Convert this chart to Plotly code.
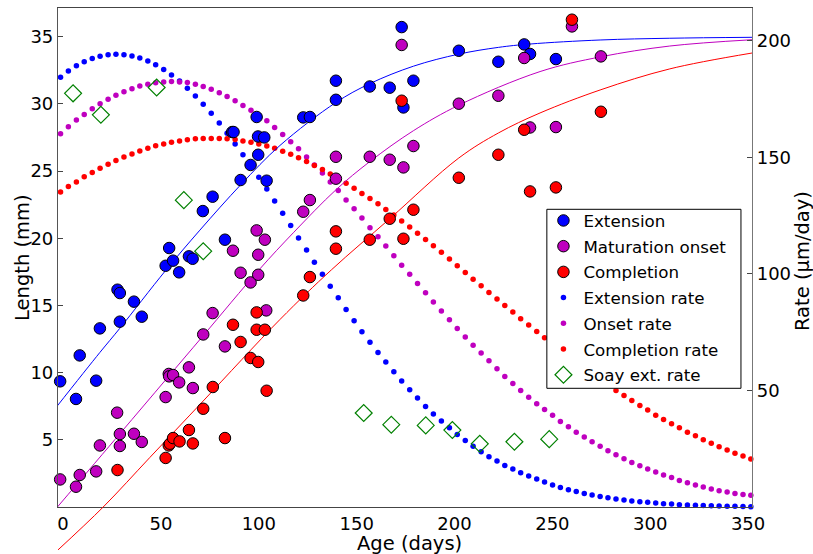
import plotly.graph_objects as go

# ---------------- data ----------------
ext_days = [-1.5, 6.6, 8.5, 16.9, 18.8, 27.8, 29.0, 29.0, 36.2, 40.2, 52.4, 54.2, 56.2, 59.3, 64.3,
            66.2, 71.4, 76.4, 82.7, 86.4, 87.1, 90.7, 95.8, 98.9, 99.6, 99.7, 102.8, 104.0, 122.7,
            126.1, 139.4, 139.4, 156.7, 166.9, 173.0, 173.9, 179.0, 202.2, 222.4, 235.6, 238.6, 251.8]
ext_len = [9.35, 8.04, 11.28, 9.40, 13.29, 16.17, 15.92, 13.79, 15.28, 14.16, 17.95, 19.27, 18.33, 17.46,
           18.65, 18.47, 22.02, 23.09, 19.89, 27.9, 27.9, 24.33, 25.45, 29.02, 27.57, 26.21, 27.50, 24.28,
           28.99, 29.02, 31.72, 30.30, 31.29, 31.20, 35.71, 29.73, 31.72, 33.95, 33.13, 34.42, 33.71, 33.33]

ons_days = [-1.5, 6.6, 8.5, 16.9, 18.8, 27.6, 29.0, 29.0, 36.2, 40.2, 52.4, 54.0, 54.2, 56.2, 59.3,
            64.3, 66.3, 71.6, 76.4, 82.7, 86.8, 90.7, 95.8, 98.9, 99.7, 99.7, 103.1, 103.8, 122.7,
            126.1, 139.4, 139.4, 156.7, 166.9, 173.0, 173.9, 179.0, 202.2, 222.4, 235.6, 238.6, 251.8,
            260.0, 274.8]
ons_len = [2.05, 1.51, 2.38, 2.65, 4.58, 7.02, 5.43, 4.54, 5.45, 4.84, 8.18, 9.90, 9.72, 9.82, 9.27,
           10.39, 8.85, 12.84, 14.43, 11.95, 19.07, 17.43, 16.71, 20.58, 18.77, 17.28, 19.89, 14.63,
           21.97, 22.84, 26.06, 24.43, 26.06, 25.84, 34.38, 25.27, 26.86, 30.01, 30.60, 33.41, 28.24,
           28.27, 35.76, 33.53]

com_days = [27.8, 52.4, 54.0, 54.6, 56.2, 59.5, 64.3, 66.3, 71.6, 76.5, 82.7, 86.8, 90.7, 95.8, 98.9,
            98.9, 99.7, 103.1, 104.0, 122.7, 126.1, 139.4, 139.4, 156.7, 166.9, 173.0, 173.9, 179.0,
            202.2, 222.4, 235.6, 238.6, 251.8, 260.0, 274.8]
com_len = [2.75, 3.65, 4.58, 4.71, 5.13, 4.88, 5.73, 4.73, 7.31, 8.93, 5.13, 13.56, 12.28, 11.09, 14.48,
           13.19, 10.79, 13.19, 8.65, 15.74, 17.11, 20.51, 19.22, 19.89, 21.45, 30.23, 19.96, 22.12,
           24.50, 26.21, 28.07, 23.48, 23.78, 36.26, 29.41]

soay_days = [5.1, 19.3, 47.8, 61.7, 71.6, 153.6, 167.7, 185.3, 198.9, 212.9, 230.6, 248.4]
soay_rate = [177.4, 168.2, 179.9, 131.6, 109.7, 40.3, 35.3, 35.0, 33.0, 27.1, 28.0, 29.1]

# fitted growth curves (length, mm)
ext_fit_days = [-3.4, 18.8, 29.0, 52.4, 69.9, 90.9, 110.8, 139.4, 156.7, 179.0, 202.2, 222.4, 238.6, 274.4, 310.0, 352.0]
ext_fit_len = [7.44, 11.5, 13.3, 17.6, 20.6, 24.0, 26.9, 30.1, 31.5, 32.8, 33.7, 34.2, 34.45, 34.75, 34.88, 34.95]

ons_fit_days = [-2.9, 29.0, 52.4, 71.6, 100.2, 117.6, 139.4, 156.7, 179.0, 202.2, 243.7, 274.8, 310.0, 352.0]
ons_fit_len = [0.0, 5.45, 9.46, 12.75, 17.66, 20.4, 23.6, 25.7, 28.0, 29.9, 32.4, 33.5, 34.3, 34.77]

com_fit_days = [-3.4, 20.5, 44.3, 71.6, 110.8, 137.2, 166.9, 202.2, 222.4, 243.7, 274.8, 310.0, 352.0]
com_fit_len = [-3.30, 0.0, 3.68, 7.89, 13.95, 17.66, 21.45, 25.97, 27.83, 29.32, 31.05, 32.6, 33.78]

# growth-rate curves (um/day), sampled every ~4 days
rate_days = [-5.4, -1.3, 2.7, 6.8, 10.8, 14.9, 18.9, 23.0, 27.0, 31.1, 35.2, 39.2, 43.3, 47.3, 51.4,
             55.4, 59.5, 63.5, 67.6, 71.6, 75.7, 79.8, 83.8, 87.9, 91.9, 96.0, 100.0, 104.1, 108.1,
             112.2, 116.3, 120.3, 124.4, 128.4, 132.5, 136.5, 140.6, 144.6, 148.7, 152.7, 156.8, 160.9,
             164.9, 169.0, 173.0, 177.1, 181.1, 185.2, 189.2, 193.3, 197.4, 201.4, 205.5, 209.5, 213.6,
             217.6, 221.7, 225.7, 229.8, 233.8, 237.9, 242.0, 246.0, 250.1, 254.1, 258.2, 262.2, 266.3,
             270.3, 274.4, 278.4, 282.5, 286.6, 290.6, 294.7, 298.7, 302.8, 306.8, 310.9, 314.9, 319.0,
             323.1, 327.1, 331.2, 335.2, 339.3, 343.3, 347.4, 351.4]
ext_rate = [181.7, 184.3, 187.0, 189.2, 190.9, 192.3, 193.3, 194.0, 194.2, 194.0, 193.4, 192.6, 191.3,
            189.7, 187.6, 185.3, 182.7, 179.6, 176.3, 172.7, 168.9, 164.7, 160.3, 155.7, 151.1, 146.4,
            141.4, 136.4, 131.2, 126.0, 120.7, 115.4, 110.2, 105.0, 99.8, 94.7, 89.7, 84.7, 79.9, 75.2,
            70.7, 66.3, 62.2, 58.0, 54.0, 50.3, 46.7, 43.1, 39.9, 36.9, 34.0, 31.1, 28.5, 26.0, 23.7,
            21.6, 19.7, 17.8, 16.3, 14.7, 13.3, 12.0, 10.7, 9.4, 8.4, 7.4, 6.6, 5.8, 5.1, 4.5, 4.0, 3.4,
            3.0, 2.6, 2.3, 2.0, 1.7, 1.4, 1.3, 1.0, 0.9, 0.7, 0.6, 0.5, 0.4, 0.3, 0.3, 0.2, 0.1]
ons_rate = [157.1, 160.1, 163.1, 166.0, 168.3, 170.8, 172.9, 174.9, 176.6, 178.1, 179.4, 180.5, 181.3,
            181.9, 182.3, 182.5, 182.3, 182.0, 181.3, 180.3, 179.2, 177.7, 176.0, 174.2, 172.2, 170.1,
            167.9, 165.6, 162.7, 159.7, 156.6, 153.6, 150.1, 146.7, 143.2, 139.4, 135.7, 131.7, 127.9,
            123.9, 119.8, 115.9, 111.9, 107.7, 103.7, 99.8, 95.8, 91.9, 87.9, 84.1, 80.3, 76.6, 72.9,
            69.4, 66.0, 62.7, 59.3, 56.0, 53.0, 50.0, 47.1, 44.3, 41.8, 39.3, 36.7, 34.4, 32.1, 30.0,
            28.0, 26.0, 24.1, 22.4, 20.7, 19.1, 17.7, 16.3, 15.0, 13.7, 12.6, 11.4, 10.4, 9.4, 8.6, 7.7,
            7.0, 6.4, 5.8, 5.4, 5.0]
com_rate = [133.1, 135.1, 137.4, 139.4, 141.6, 143.4, 145.3, 147.0, 148.6, 150.1, 151.4, 152.7, 153.9,
            154.9, 155.7, 156.4, 157.0, 157.5, 157.9, 158.0, 158.0, 158.0, 157.9, 157.6, 157.0, 156.4,
            155.7, 154.8, 153.8, 152.6, 151.3, 149.8, 148.2, 146.5, 144.7, 142.8, 140.8, 138.8, 136.7,
            134.5, 132.3, 130.0, 127.6, 125.2, 122.7, 120.1, 117.4, 114.7, 112.0, 109.2, 106.4, 103.5,
            100.6, 97.7, 94.9, 92.0, 89.2, 86.4, 83.6, 80.7, 78.0, 75.3, 72.6, 69.8, 67.1, 64.4, 61.8,
            59.3, 56.9, 54.5, 52.2, 50.0, 47.8, 45.7, 43.5, 41.6, 39.4, 37.5, 35.7, 34.0, 32.1, 30.6,
            28.8, 27.3, 25.8, 24.4, 23.1, 21.9, 20.6]

x_ticks = [0, 50, 100, 150, 200, 250, 300, 350]
len_ticks = [5, 10, 15, 20, 25, 30, 35]
rate_ticks = [50, 100, 150, 200]

BLUE = "#0000ff"
MAG = "#bf00bf"
RED = "#ff0000"
GREEN = "#008000"
FONT = "DejaVu Sans"

X_RANGE = [-2.6, 352]
LEN_RANGE = [0, 37.13]
RATE_RANGE = [0, 214]
# layout geometry: figure 813x554, plot area 58..752 x 8..507 px
PLOT_BOTTOM = 47 / 546          # paper fraction occupied below the main axes
BELOW_LEN = 47 * (LEN_RANGE[1] - LEN_RANGE[0]) / 499   # length span of the strip under the x axis

fig = go.Figure()

# ---- rate curves (axis y, right side, drawn underneath) ----
rate_names = ["Extension rate", "Onset rate", "Completion rate"]
for k, (vals, col) in enumerate([(ext_rate, BLUE), (ons_rate, MAG), (com_rate, RED)]):
    fig.add_trace(go.Scatter(x=rate_days, y=vals, mode="markers", name=rate_names[k],
                             marker=dict(size=5.5, color=col, line=dict(width=0)),
                             cliponaxis=False, yaxis="y", legendrank=4 + k,
                             legendgroup="g%d" % (4 + k)))

fig.add_trace(go.Scatter(x=soay_days, y=soay_rate, mode="markers", name="Soay ext. rate",
                         marker=dict(symbol="diamond-open", size=13, color=GREEN,
                                     line=dict(width=1.2, color=GREEN)),
                         yaxis="y", legendrank=7, legendgroup="g7"))

# ---- fitted lines (length axis y2, left) ----
for xs, ys, col in [(ext_fit_days, ext_fit_len, BLUE),
                    (ons_fit_days, ons_fit_len, MAG),
                    (com_fit_days, com_fit_len, RED)]:
    fig.add_trace(go.Scatter(x=xs, y=ys, mode="lines",
                             line=dict(color=col, width=1, shape="spline", smoothing=1.0),
                             showlegend=False, yaxis="y2", hoverinfo="skip"))

# the completion fit continues below the x axis (negative lengths), shown in a hidden strip
fig.add_trace(go.Scatter(x=com_fit_days, y=com_fit_len, mode="lines",
                         line=dict(color=RED, width=1, shape="spline", smoothing=1.0),
                         showlegend=False, xaxis="x2", yaxis="y3", hoverinfo="skip"))

# ---- measured lengths ----
for i, (name, xs, ys, col) in enumerate([("Extension", ext_days, ext_len, BLUE),
                                          ("Maturation onset", ons_days, ons_len, MAG),
                                          ("Completion", com_days, com_len, RED)]):
    fig.add_trace(go.Scatter(x=xs, y=ys, mode="markers", name=name,
                             marker=dict(size=11.5, color=col, line=dict(width=1, color="black")),
                             cliponaxis=False, yaxis="y2", legendrank=1 + i,
                             legendgroup="g%d" % (1 + i)))


def py(px):
    """figure pixel row -> paper fraction"""
    return (554 - px) / 546


axis_font = dict(family=FONT, size=18, color="black")
title_font = dict(family=FONT, size=19.5, color="black")
fig.update_layout(
    width=813, height=554,
    margin=dict(l=58, r=61, t=8, b=0, autoexpand=False),
    paper_bgcolor="white", plot_bgcolor="rgba(0,0,0,0)",
    font=dict(family=FONT, size=18, color="black"),
    xaxis=dict(range=X_RANGE, tickvals=x_ticks, ticks="", showgrid=False, zeroline=False,
               showline=True, linecolor="#444", linewidth=1.2, mirror=True, tickfont=axis_font,
               automargin=False, anchor="y"),
    yaxis=dict(range=RATE_RANGE, domain=[PLOT_BOTTOM, 1], side="right", tickvals=rate_ticks,
               ticks="inside", ticklen=5, tickcolor="#444", showgrid=False, zeroline=False,
               showline=True, linecolor="#777", linewidth=1.2, tickfont=axis_font, automargin=False),
    yaxis2=dict(range=LEN_RANGE, side="left", overlaying="y", tickvals=len_ticks, ticks="inside",
                ticklen=5, tickcolor="#444", showgrid=False, zeroline=False, showline=True,
                linecolor="#555", linewidth=1.2, tickfont=axis_font, automargin=False),
    xaxis2=dict(range=X_RANGE, domain=[0, 1], anchor="y3", visible=False, fixedrange=True),
    yaxis3=dict(range=[-BELOW_LEN, 0], domain=[0, PLOT_BOTTOM], anchor="x2", visible=False,
                fixedrange=True),
    legend=dict(x=0.6995, y=py(203.1), xanchor="left", yanchor="top", bgcolor="rgba(0,0,0,0)",
                borderwidth=0, font=dict(family=FONT, size=16.7),
                itemsizing="trace", tracegroupgap=1, traceorder="grouped"),
    showlegend=True,
    shapes=[dict(type="rect", xref="paper", yref="paper", x0=0.7044, x1=0.9841,
                 y0=py(388.3), y1=py(209.3),
                 fillcolor="white", line=dict(color="black", width=1), layer="above")],
    annotations=[
        dict(text="Age (days)", xref="paper", yref="paper", x=0.507, y=PLOT_BOTTOM, yshift=-36,
             xanchor="center", yanchor="middle", showarrow=False, font=title_font),
        dict(text="Length (mm)", xref="paper", yref="paper", x=0, y=py(258), xshift=-36,
             xanchor="center", yanchor="middle", textangle=-90, showarrow=False, font=title_font),
        dict(text="Rate (µm/day)", xref="paper", yref="paper", x=1, y=py(261), xshift=50,
             xanchor="center", yanchor="middle", textangle=-90, showarrow=False, font=title_font),
    ],
)

fig.write_html("out.html", post_script="document.body.style.margin='0px';",
               config={"displayModeBar": False})
